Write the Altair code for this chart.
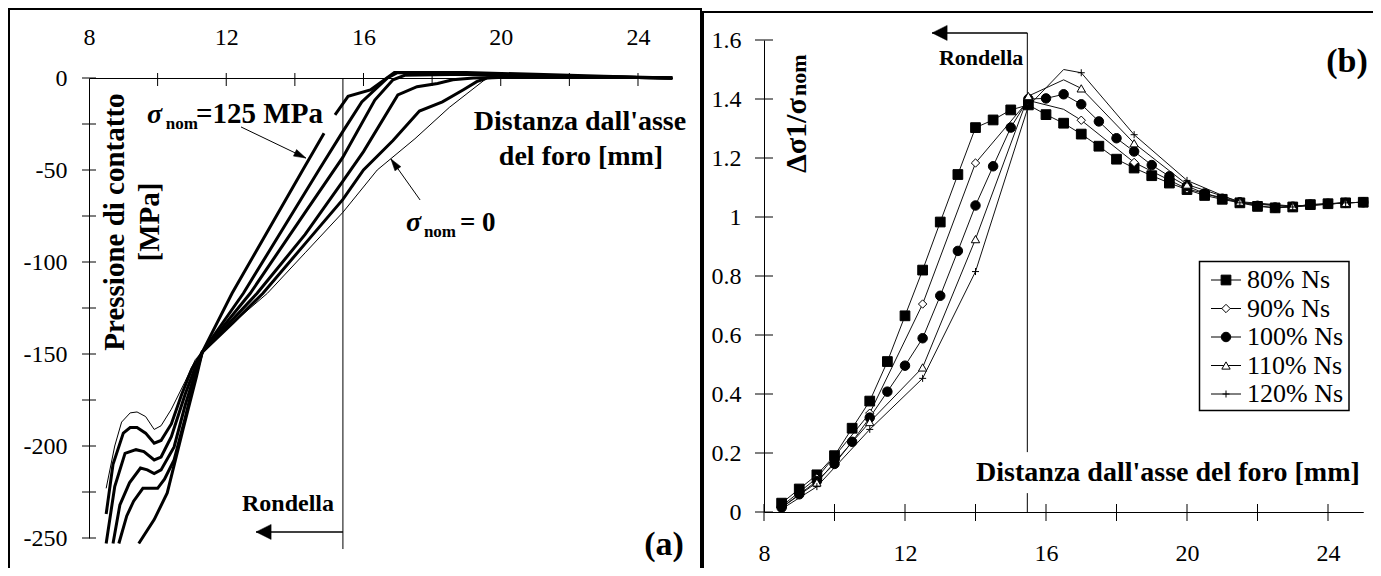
import math
import altair as alt
import pandas as pd

FONT = "'Liberation Serif', 'Times New Roman', Times, serif"

# ---------------- panel (a): contact pressure curves (sigma_nom in MPa) ----------------
A0_X = [8.5, 8.75, 8.95, 9.2, 9.4, 9.65, 9.9, 10.1, 10.4, 10.8, 11.1, 11.35, 12.2, 13.2, 14.3, 15.4, 16.4, 17.5, 18.5, 19.6, 21, 23, 25]
A0_Y = [-223, -200, -187, -182, -181.5, -184, -191, -189, -180, -165, -153, -148, -133, -117, -95, -73, -50, -33, -16, 0, 0.5, 0.3, 0]
A25_X = [8.5, 8.7, 9.0, 9.2, 9.4, 9.65, 9.9, 10.1, 10.4, 10.7, 11.0, 11.3, 12.2, 13.07, 14.3, 15.4, 16.0, 16.86, 17.63, 18.3, 18.9, 19.3, 19.6, 21, 23, 25]
A25_Y = [-237, -210, -193, -190, -190, -193, -198.5, -197, -188, -172, -158, -149, -133, -117, -90, -66, -50, -34, -18, -13, -6.5, -2, 0, 1, 0.5, 0]
A50_X = [8.5, 8.75, 9.05, 9.37, 9.6, 9.9, 10.1, 10.4, 10.8, 11.1, 11.3, 12.9, 14.3, 15.4, 16.0, 17.0, 17.56, 18.16, 18.6, 19.2, 21, 23, 25]
A50_Y = [-253, -222, -204, -202, -203, -207.6, -206, -195, -172, -157, -149, -117, -85, -56, -40, -9.2, -4.7, -3, -1, 0, 1, 0.5, 0]
A75_X = [8.7, 8.9, 9.18, 9.5, 9.7, 9.9, 10.1, 10.48, 10.8, 11.1, 11.3, 12.7, 14.3, 15.4, 16.33, 16.86, 17.2, 19, 21, 23, 25]
A75_Y = [-253, -232, -220, -212, -213, -215, -213, -200.5, -178, -160, -149, -117, -73, -43, -12, -1, 1.5, 2, 1, 0.5, 0]
A100_X = [8.87, 9.1, 9.3, 9.57, 9.8, 10.0, 10.2, 10.48, 10.8, 11.1, 11.3, 12.5, 14.7, 15.4, 15.95, 16.7, 17.0, 19, 21, 23, 25]
A100_Y = [-253, -238, -230, -223, -223, -223, -218, -207.6, -185, -162, -149, -117, -50, -29, -13, 0, 3, 2.5, 1.5, 0.5, 0]
A125_X = [9.45, 9.9, 10.28, 10.74, 11.13, 11.3, 12.17, 14.23, 14.85]
A125_Y = [-253, -240, -225.5, -191, -162.5, -149, -117, -50, -30]
A125B_X = [15.17, 15.55, 16.2, 16.9, 17.5, 19, 21, 23, 25]
A125B_Y = [-20, -10, -6.5, 3, 3, 3, 2, 1, 0]

# ---------------- panel (b): stress ratio series ----------------
R_X = [8.5, 9.0, 9.5, 10.0, 10.5, 11.0, 11.5, 12.0, 12.5, 13.0, 13.5, 14.0, 14.5, 15.0, 15.5, 16.0, 16.5,
       17.0, 17.5, 18.0, 18.5, 19.0, 19.5, 20.0, 20.5, 21.0, 21.5, 22.0, 22.5, 23.0, 23.5, 24.0, 24.5, 25.0]
R80 = [0.03, 0.078, 0.126, 0.191, 0.284, 0.376, 0.51, 0.665, 0.82, 0.983, 1.144, 1.303, 1.329, 1.363, 1.38, 1.347, 1.318,
       1.281, 1.24, 1.196, 1.166, 1.14, 1.115, 1.093, 1.073, 1.06, 1.048, 1.036, 1.031, 1.034, 1.042, 1.045, 1.048, 1.05]
R100 = [0.015, 0.06, 0.105, 0.163, 0.238, 0.32, 0.408, 0.496, 0.589, 0.733, 0.885, 1.039, 1.172, 1.303, 1.40, 1.402, 1.416,
        1.382, 1.324, 1.267, 1.222, 1.176, 1.138, 1.105, 1.08, 1.062, 1.05, 1.038, 1.032, 1.035, 1.042, 1.045, 1.048, 1.05]
RC_X = [8.5, 9.5, 11.0, 12.5, 14.0, 15.5, 16.5, 17.0, 18.5, 20.0, 21.5, 23.0, 24.5, 25.0]
RC_MARK = [False, True, True, True, True, True, False, True, True, True, True, True, True, False]
R90 = [0.02, 0.115, 0.335, 0.705, 1.183, 1.395, 1.365, 1.328, 1.185, 1.095, 1.05, 1.035, 1.048, 1.05]
R110 = [0.015, 0.1, 0.305, 0.49, 0.925, 1.41, 1.465, 1.436, 1.25, 1.11, 1.052, 1.037, 1.048, 1.05]
R120 = [0.01, 0.086, 0.28, 0.453, 0.815, 1.376, 1.50, 1.489, 1.279, 1.124, 1.048, 1.034, 1.048, 1.05]
LEGEND = ["80% Ns", "90% Ns", "100% Ns", "110% Ns", "120% Ns"]

# ---------------- ticks / labels ----------------
LX_TICKS = [10, 12, 14, 16, 18, 20, 22, 24]
LX_LABELS = [8, 12, 16, 20, 24]
LY_TICKS = [0, -25, -50, -75, -100, -125, -150, -175, -200, -225, -250]
LY_LABELS = [0, -50, -100, -150, -200, -250]
RX_TICKS = [8, 10, 12, 14, 16, 18, 20, 22, 24]
RX_LABELS = [8, 12, 16, 20, 24]
RY_TICKS = [0, 0.2, 0.4, 0.6, 0.8, 1, 1.2, 1.4, 1.6]

# ---------------- scales (pixel ranges inside the view) ----------------
LX = alt.Scale(domain=[8, 25], range=[79, 662.3], nice=False, zero=False)
LY = alt.Scale(domain=[-250, 0], range=[528, 68], nice=False, zero=False)
RX = alt.Scale(domain=[8, 25], range=[754, 1353.25], nice=False, zero=False)
RY = alt.Scale(domain=[0, 1.6], range=[502, 30], nice=False, zero=False)
KLX, KLY = 583.3 / 17, 460 / 250
KRX, KRY = 599.25 / 17, 472 / 1.6


def sc(panel):
    return (LX, LY) if panel == "L" else (RX, RY)


def enc_xy(panel, xf="x", yf="y", xaxis=None, yaxis=None):
    sx, sy = sc(panel)
    return dict(x=alt.X(f"{xf}:Q", scale=sx, axis=xaxis), y=alt.Y(f"{yf}:Q", scale=sy, axis=yaxis))


def axis(orient, offset, values, pad, baseline="middle"):
    return alt.Axis(orient=orient, offset=offset, values=values, ticks=False, tickSize=0, grid=False,
                    domainColor="black", domainWidth=1, labelFont=FONT, labelFontSize=24,
                    labelColor="black", labelPadding=pad, labelBaseline=baseline, labelFlush=False,
                    labelOverlap=False, labelExpr="'' + datum.value", title=None)


def text(panel, x, y, t, size, bold=True, italic=False, align="left", baseline="alphabetic", angle=0):
    df = pd.DataFrame({"x": [x], "y": [y], "t": [t]})
    kw = dict(font=FONT, fontSize=size, fontWeight="bold" if bold else "normal",
              align=align, baseline=baseline, color="black")
    if italic:
        kw["fontStyle"] = "italic"
    if angle:
        kw["angle"] = angle
    return alt.Chart(df).mark_text(**kw).encode(text="t:N", **enc_xy(panel))


def seg(panel, x1, y1, x2, y2, width=1):
    sx, sy = sc(panel)
    df = pd.DataFrame({"x": [x1], "y": [y1], "x2": [x2], "y2": [y2]})
    return alt.Chart(df).mark_rule(color="black", strokeWidth=width).encode(
        x=alt.X("x:Q", scale=sx, axis=None), y=alt.Y("y:Q", scale=sy, axis=None), x2="x2:Q", y2="y2:Q")


def arrow(panel, x1, y1, x2, y2, head_size, head_path, width=1):
    kx, ky = (KLX, KLY) if panel == "L" else (KRX, KRY)
    dx = (x2 - x1) * kx
    dy = -(y2 - y1) * ky
    ang = (math.degrees(math.atan2(dx, -dy)) + 360) % 360
    df = pd.DataFrame({"x": [x2], "y": [y2]})
    head = alt.Chart(df).mark_point(shape=head_path, filled=True, fill="black", stroke="black",
                                    strokeWidth=0.5, size=head_size, angle=round(ang, 1), opacity=1
                                    ).encode(**enc_xy(panel))
    return [seg(panel, x1, y1, x2, y2, width), head]


def ticks_x(panel, vals, y1, y2):
    sx, _ = sc(panel)
    return alt.Chart(pd.DataFrame({"v": vals})).mark_rule(color="black", strokeWidth=1).encode(
        x=alt.X("v:Q", scale=sx, axis=None), y=alt.value(y1), y2=alt.value(y2))


def ticks_y(panel, vals, x1, x2):
    _, sy = sc(panel)
    return alt.Chart(pd.DataFrame({"v": vals})).mark_rule(color="black", strokeWidth=1).encode(
        y=alt.Y("v:Q", scale=sy, axis=None), x=alt.value(x1), x2=alt.value(x2))


layers = []

# frames
layers.append(alt.Chart(pd.DataFrame({"a": [0]})).mark_rect(fillOpacity=0, stroke="black", strokeWidth=2).encode(
    x=alt.value(-1.0), x2=alt.value(691), y=alt.value(-1.0), y2=alt.value(575)))
layers.append(alt.Chart(pd.DataFrame({"a": [0]})).mark_rect(fillOpacity=0, stroke="black", strokeWidth=2).encode(
    x=alt.value(693), x2=alt.value(1385), y=alt.value(2), y2=alt.value(575)))

# ---------------- panel (a) ----------------
rows = []
for name, xs, ys in [("0", A0_X, A0_Y), ("25", A25_X, A25_Y), ("50", A50_X, A50_Y), ("75", A75_X, A75_Y),
                     ("100", A100_X, A100_Y), ("125a", A125_X, A125_Y), ("125b", A125B_X, A125B_Y)]:
    for xv, yv in zip(xs, ys):
        rows.append({"c": name, "x": xv, "y": yv})
dfa = pd.DataFrame(rows)

layers.append(alt.Chart(dfa[dfa.c == "0"]).mark_line(color="black", strokeWidth=1).encode(
    detail="c:N", **enc_xy("L")))
layers.append(alt.Chart(dfa[dfa.c != "0"]).mark_line(color="black", strokeWidth=3).encode(
    detail="c:N", **enc_xy("L", xaxis=axis("top", -68, LX_LABELS, 41),
                           yaxis=axis("left", -79, LY_LABELS, 22))))
layers.append(ticks_x("L", LX_TICKS, 63, 76))
layers.append(ticks_y("L", LY_TICKS, 72, 86))
layers.append(seg("L", 15.4, 0, 15.4, -256))
layers += arrow("L", 15.4, -246.7, 12.87, -246.7, 225, "M0,0L-1,2L1,2Z", 1.5)
layers.append(text("L", 13.8, -231.5, "Rondella", 24, align="center", baseline="middle"))
layers += arrow("L", 12.43, -26.6, 14.32, -43.5, 144, "M0,0L-0.6,2L0.6,2Z")
layers += arrow("L", 17.65, -66.3, 16.8, -44, 144, "M0,0L-0.6,2L0.6,2Z")
layers.append(text("L", 9.69, -24.5, "σ", 28, italic=True))
layers.append(text("L", 10.24, -27.7, "nom", 17))
layers.append(text("L", 11.12, -24.5, "=125 MPa", 29))
layers.append(text("L", 17.24, -83.2, "σ", 28, italic=True))
layers.append(text("L", 17.76, -86.4, "nom", 17))
layers.append(text("L", 18.81, -83.2, "= 0", 27))
layers.append(text("L", 22.31, -23.9, "Distanza dall'asse", 28, align="center", baseline="middle"))
layers.append(text("L", 22.34, -42.9, "del foro [mm]", 28, align="center", baseline="middle"))
layers.append(text("L", 8.76, -78.3, "Pressione di contatto", 29, align="center", baseline="middle", angle=270))
layers.append(text("L", 9.78, -78.3, "[MPa]", 29, align="center", baseline="middle", angle=270))
layers.append(text("L", 24.76, -253.8, "(a)", 34, align="center", baseline="middle"))

# ---------------- panel (b) ----------------
lines = []
for name, ys in [("80% Ns", R80), ("100% Ns", R100)]:
    for xv, yv in zip(R_X, ys):
        lines.append({"s": name, "x": xv, "y": yv, "m": True})
for name, ys in [("90% Ns", R90), ("110% Ns", R110), ("120% Ns", R120)]:
    for xv, yv, mk in zip(RC_X, ys, RC_MARK):
        lines.append({"s": name, "x": xv, "y": yv, "m": mk})
dfb = pd.DataFrame(lines)

STYLE = {
    "80% Ns": dict(shape="square", fill="black", size=95),
    "90% Ns": dict(shape="diamond", fill="white", size=70),
    "100% Ns": dict(shape="circle", fill="black", size=90),
    "110% Ns": dict(shape="triangle-up", fill="white", size=70),
    "120% Ns": dict(shape="M-1,0H1M0,-1V1", fill="white", size=49),
}

layers.append(seg("R", 15.47, 0, 15.47, 0.064))
layers.append(seg("R", 15.47, 0.203, 15.47, 1.624))
layers.append(alt.Chart(dfb).mark_line(color="#111111", strokeWidth=1).encode(
    detail="s:N", **enc_xy("R", xaxis=axis("bottom", -56, RX_LABELS, 41),
                           yaxis=axis("left", -754, RY_TICKS, 23))))
for name in LEGEND:
    st = STYLE[name]
    sub = dfb[(dfb.s == name) & (dfb.m)]
    layers.append(alt.Chart(sub).mark_point(shape=st["shape"], filled=True, fill=st["fill"], stroke="black",
                                            strokeWidth=1, size=st["size"], opacity=1).encode(**enc_xy("R")))
layers.append(ticks_x("R", RX_TICKS, 494, 511))
layers.append(ticks_y("R", RY_TICKS, 745, 763))
layers += arrow("R", 15.47, 1.624, 12.77, 1.624, 225, "M0,0L-1,2L1,2Z", 1.5)
layers.append(text("R", 14.16, 1.539, "Rondella", 22, align="center", baseline="middle"))
layers.append(text("R", 19.46, 0.132, "Distanza dall'asse del foro [mm]", 28, align="center", baseline="middle"))
layers.append(text("R", 24.54, 1.525, "(b)", 34, align="center", baseline="middle"))
layers.append(text("R", 9.19, 1.149, "Δσ1/σ", 30, angle=270))
layers.append(text("R", 9.19, 1.41, "nom", 22, angle=270))

# legend
LEG_Y = alt.Scale(type="point", domain=LEGEND, range=[270, 384], padding=0)
leg = pd.DataFrame({"s": LEGEND})
layers.append(alt.Chart(pd.DataFrame({"a": [0]})).mark_rect(fill="white", stroke="black", strokeWidth=1.5).encode(
    x=alt.value(1189.5), x2=alt.value(1339), y=alt.value(251.5), y2=alt.value(400.5)))
layers.append(alt.Chart(leg).mark_rule(color="black", strokeWidth=1).encode(
    x=alt.value(1201), x2=alt.value(1231), y=alt.Y("s:N", scale=LEG_Y, axis=None)))
for name in LEGEND:
    st = STYLE[name]
    layers.append(alt.Chart(leg[leg.s == name]).mark_point(shape=st["shape"], filled=True, fill=st["fill"],
                                                           stroke="black", strokeWidth=1, size=st["size"],
                                                           opacity=1).encode(
        x=alt.value(1216), y=alt.Y("s:N", scale=LEG_Y, axis=None)))
layers.append(alt.Chart(leg).mark_text(font=FONT, fontSize=26, align="left", baseline="middle", color="black").encode(
    x=alt.value(1237), y=alt.Y("s:N", scale=LEG_Y, axis=None), text="s:N"))

chart = alt.layer(*layers).resolve_scale(x="independent", y="independent").properties(
    width=1363, height=558,
    padding={"left": 2, "top": 2, "right": 0, "bottom": 0},
    autosize=alt.AutoSizeParams(type="none"),
    background="white",
).configure_view(strokeWidth=0)

chart.save("out.html", embed_options={"renderer": "svg", "actions": False})
